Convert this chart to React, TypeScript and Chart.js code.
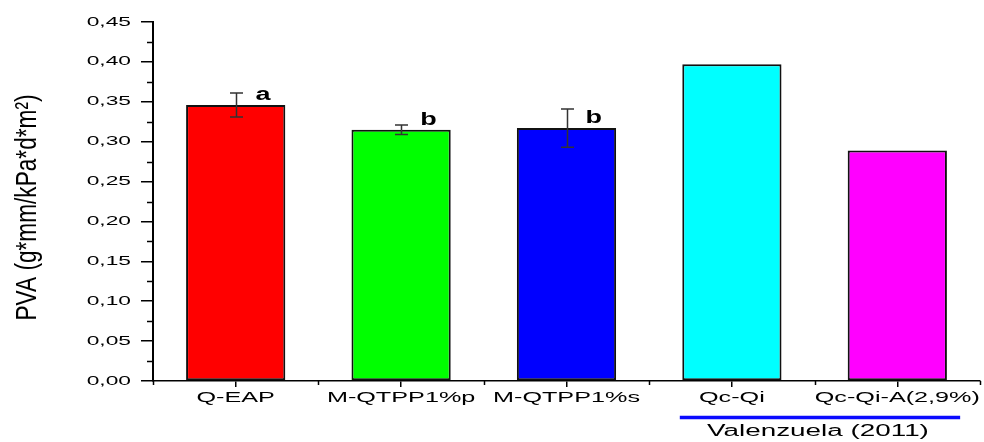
import React, { useEffect, useRef } from "react";
import { Chart, registerables } from "chart.js";

Chart.register(...registerables);

const categories = ["Q-EAP", "M-QTPP1%p", "M-QTPP1%s", "Qc-Qi", "Qc-Qi-A(2,9%)"];
const pvaValues = [0.346, 0.315, 0.317, 0.397, 0.289];
const pvaErrors = [0.015, 0.006, 0.024, 0, 0];
const groupLetters = ["a", "b", "b", "", ""];
const barColors = ["#ff0000", "#00ff00", "#0000ff", "#00ffff", "#ff00ff"];
const yTitle = "PVA (g*mm/kPa*d*m\u00B2)";
const sourceLabel = "Valenzuela (2011)";
const sourceCategories = [3, 4];

const FONT = '"Liberation Sans", Arial, sans-serif';

const overlayPlugin = {
  id: "overlay",
  afterDraw(chart: any) {
    const ctx: CanvasRenderingContext2D = chart.ctx;
    const x = chart.scales.x;
    const y = chart.scales.y;
    const area = chart.chartArea;
    ctx.save();
    ctx.fillStyle = "#000";
    ctx.strokeStyle = "#000";

    // y tick labels (stretched)
    y.ticks.forEach((t: any) => {
      const py = y.getPixelForValue(t.value);
      ctx.save();
      ctx.translate(area.left - 22, py);
      ctx.scale(1.75, 1);
      ctx.font = "13px " + FONT;
      ctx.textAlign = "right";
      ctx.textBaseline = "middle";
      ctx.fillText(t.value.toFixed(2).replace(".", ","), 0, 0);
      ctx.restore();
    });
    // y minor ticks
    ctx.lineWidth = 1.5;
    for (let i = 0; i < y.ticks.length - 1; i++) {
      const v = (y.ticks[i].value + y.ticks[i + 1].value) / 2;
      const py = Math.round(y.getPixelForValue(v)) + 0.5;
      ctx.beginPath();
      ctx.moveTo(area.left - 6, py);
      ctx.lineTo(area.left, py);
      ctx.stroke();
    }
    // x minor ticks at boundaries
    const n = categories.length;
    const catW = (area.right - area.left) / n;
    for (let i = 0; i <= n; i++) {
      const px = Math.round(x.getPixelForValue(i - 0.5)) + 0.5;
      ctx.beginPath();
      ctx.moveTo(px, area.bottom);
      ctx.lineTo(px, area.bottom + 4);
      ctx.stroke();
    }
    // x labels
    categories.forEach((c, i) => {
      const px = x.getPixelForValue(i);
      ctx.save();
      ctx.translate(px, area.bottom + 17);
      ctx.scale(1.8, 1);
      ctx.font = "14px " + FONT;
      ctx.textAlign = "center";
      ctx.textBaseline = "middle";
      ctx.fillText(c, 0, 0);
      ctx.restore();
    });

    // error bars
    ctx.strokeStyle = "#333";
    ctx.lineWidth = 1.5;
    pvaValues.forEach((v, i) => {
      const e = pvaErrors[i];
      if (!e) return;
      const px = Math.round(x.getPixelForValue(i)) + 0.5;
      const top = y.getPixelForValue(v + e);
      const bot = y.getPixelForValue(v - e);
      ctx.beginPath();
      ctx.moveTo(px, top);
      ctx.lineTo(px, bot);
      ctx.moveTo(px - 6.5, top);
      ctx.lineTo(px + 6.5, top);
      ctx.moveTo(px - 6.5, bot);
      ctx.lineTo(px + 6.5, bot);
      ctx.stroke();
    });

    // letters
    ctx.fillStyle = "#000";
    groupLetters.forEach((l, i) => {
      if (!l) return;
      const px = x.getPixelForValue(i) + catW * 0.165;
      const py = y.getPixelForValue(pvaValues[i]) - 5;
      ctx.save();
      ctx.translate(px, py);
      ctx.scale(1.5, 1);
      ctx.font = "bold 18px " + FONT;
      ctx.textAlign = "center";
      ctx.textBaseline = "alphabetic";
      ctx.fillText(l, 0, 0);
      ctx.restore();
    });

    // y title
    ctx.save();
    ctx.font = "30px " + FONT;
    const w = ctx.measureText(yTitle).width;
    ctx.translate(36, (area.top + area.bottom) / 2 + 6);
    ctx.rotate(-Math.PI / 2);
    ctx.scale(226 / w, 1);
    ctx.textAlign = "center";
    ctx.textBaseline = "alphabetic";
    ctx.fillText(yTitle, 0, 0);
    ctx.restore();

    // source bracket line and label
    const x1 = x.getPixelForValue(sourceCategories[0]) - catW * 0.315;
    const x2 = x.getPixelForValue(sourceCategories[1]) + catW * 0.38;
    ctx.strokeStyle = "#0a0aff";
    ctx.lineWidth = 3.5;
    ctx.beginPath();
    ctx.moveTo(x1, area.bottom + 36.5);
    ctx.lineTo(x2, area.bottom + 36.5);
    ctx.stroke();
    ctx.save();
    ctx.translate((x1 + x2) / 2 - 2, area.bottom + 51);
    ctx.scale(1.74, 1);
    ctx.font = "16px " + FONT;
    ctx.textAlign = "center";
    ctx.textBaseline = "middle";
    ctx.fillStyle = "#000";
    ctx.fillText(sourceLabel, 0, 0);
    ctx.restore();

    ctx.restore();
  },
};

export default function App() {
  const ref = useRef<HTMLCanvasElement | null>(null);
  useEffect(() => {
    if (!ref.current) return;
    const chart = new Chart(ref.current, {
      type: "bar",
      data: {
        labels: categories,
        datasets: [
          {
            data: pvaValues,
            backgroundColor: barColors,
            borderColor: "#111",
            borderWidth: 2,
            borderSkipped: false,
            barPercentage: 0.6,
            categoryPercentage: 1,
          },
        ],
      },
      options: {
        animation: false,
        responsive: false,
        devicePixelRatio: 1,
        layout: { padding: { left: 0, top: 22, right: 4, bottom: 0 } },
        plugins: { legend: { display: false }, tooltip: { enabled: false } },
        scales: {
          x: {
            offset: true,
            grid: {
              display: true,
              offset: false,
              drawOnChartArea: false,
              drawTicks: true,
              tickLength: 6,
              color: "#000",
              lineWidth: 1.5,
            },
            border: { display: true, color: "#000", width: 1.5 },
            ticks: { display: false },
            afterFit: (s: any) => {
              s.height = 61;
            },
          },
          y: {
            min: 0,
            max: 0.45,
            ticks: { display: false, stepSize: 0.05 },
            grid: {
              display: true,
              drawOnChartArea: false,
              drawTicks: true,
              tickLength: 12,
              color: "#000",
              lineWidth: 1.5,
            },
            border: { display: true, color: "#000", width: 2 },
            afterFit: (s: any) => {
              s.width = 153;
            },
          },
        },
      },
      plugins: [overlayPlugin],
    });
    return () => chart.destroy();
  }, []);
  return (
    <div style={{ position: "absolute", left: 0, top: 0, width: 984, height: 442, background: "#fff" }}>
      <canvas ref={ref} width={984} height={442} style={{ width: 984, height: 442 }} />
    </div>
  );
}
